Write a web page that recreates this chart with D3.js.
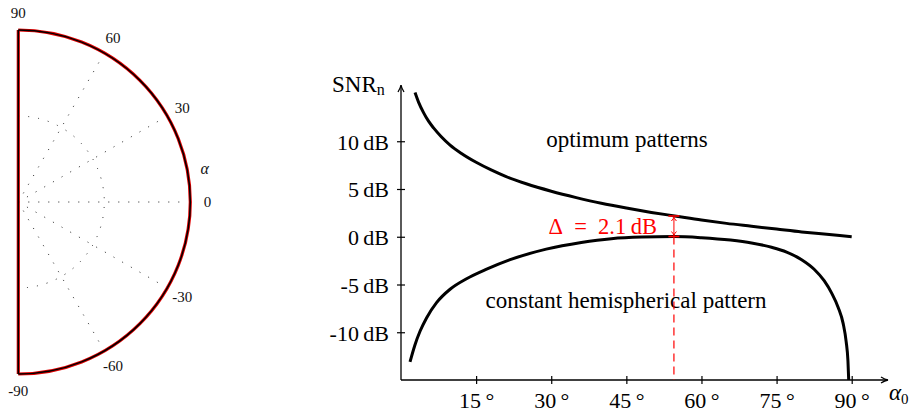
<!DOCTYPE html>
<html>
<head>
<meta charset="utf-8">
<script src="https://cdn.jsdelivr.net/npm/d3@7"></script>
<style>
  body { margin: 0; background: #fff; }
  svg { display: block; }
  text { font-family: "Liberation Serif", "Times New Roman", serif; }
</style>
</head>
<body>
<div id="chart"></div>
<script>
// polar sketch (left)
const polarLabels = [-90, -60, -30, 0, 30, 60, 90];
const polarRays = [-60, -30, 0, 30, 60];

// SNR vs alpha0 (right)
const xTicks = [15, 30, 45, 60, 75, 90];
const yTicks = [-10, -5, 0, 5, 10];
const alphaOpt = [2.8, 3.5, 4.5, 5.5, 6.5, 8, 9.8, 12, 15, 18, 21, 25, 30, 35, 40, 45, 50, 55, 60, 65, 70, 75, 80, 85, 90];
const snrOpt = [15.1, 14.1, 13.0, 12.1, 11.4, 10.5, 9.6, 8.75, 7.8, 7.0, 6.3, 5.55, 4.77, 4.1, 3.5, 3.0, 2.55, 2.15, 1.75, 1.4, 1.1, 0.8, 0.5, 0.25, 0.0];
const alphaHemi = [1.8, 2.8, 3.8, 5.1, 7.1, 9.8, 13.1, 17.1, 21.8, 29, 36, 42, 48, 54.5, 60, 65.8, 70, 74, 77, 80, 82.5, 84.5, 86, 87.3, 88.3, 88.9, 89.25, 89.4];
const snrHemi = [-13.1, -11.3, -9.9, -8.5, -6.9, -5.5, -4.4, -3.4, -2.4, -1.3, -0.6, -0.2, -0.03, 0.02, -0.1, -0.35, -0.65, -1.1, -1.6, -2.4, -3.4, -4.6, -5.9, -7.4, -9.1, -11.0, -13.0, -15];
const deltaAlpha = 54.5;
const deltaText = "\u0394\u2002=\u20022.1\u2009dB";

const width = 916, height = 414;
const svg = d3.select("#chart").append("svg")
    .attr("width", width)
    .attr("height", height);

// ---------- left: polar half circle ----------
const cx = 18.3, cy = 202, R = 172;
const r = d3.scaleLinear().domain([0, 1]).range([0, R]);
const px = (a, k) => cx + r(k) * Math.cos(a * Math.PI / 180);
const py = (a, k) => cy - r(k) * Math.sin(a * Math.PI / 180);

const polar = svg.append("g");

polar.selectAll("line.ray")
    .data(polarRays)
    .enter()
    .append("line")
    .attr("class", "ray")
    .attr("x1", cx).attr("y1", cy)
    .attr("x2", d => px(d, 0.95))
    .attr("y2", d => py(d, 0.95))
    .attr("stroke", "#222")
    .attr("stroke-width", 1)
    .attr("stroke-dasharray", "1,9");

const halfArc = k => {
    const p = d3.path();
    p.arc(cx, cy, r(k), -Math.PI / 2, Math.PI / 2);
    return p.toString();
};

polar.append("path")
    .attr("d", halfArc(0.5))
    .attr("fill", "none")
    .attr("stroke", "#222")
    .attr("stroke-width", 1)
    .attr("stroke-dasharray", "1,9");

// outline: red underneath, black on top
["#e00000", "#000"].forEach((c, i) => {
    const w = i === 0 ? 3.2 : 1.5;
    polar.append("path")
        .attr("d", halfArc(1))
        .attr("fill", "none")
        .attr("stroke", c)
        .attr("stroke-width", w);
    polar.append("line")
        .attr("x1", cx).attr("y1", py(90, 1))
        .attr("x2", cx).attr("y2", py(-90, 1))
        .attr("stroke", c)
        .attr("stroke-width", w);
});

polar.selectAll("text.plab")
    .data(polarLabels)
    .enter()
    .append("text")
    .attr("class", "plab")
    .attr("x", d => px(d, 1.1))
    .attr("y", d => py(d, 1.1))
    .attr("dy", "0.35em")
    .attr("text-anchor", "middle")
    .attr("font-size", 15)
    .attr("fill", "#111")
    .text(d => d);

polar.append("text")
    .attr("x", px(10, 1.1))
    .attr("y", py(10, 1.1))
    .attr("dy", "0.3em")
    .attr("text-anchor", "middle")
    .attr("font-size", 16)
    .attr("font-style", "italic")
    .attr("fill", "#111")
    .text("\u03b1");

// ---------- right: SNR chart ----------
const x = d3.scaleLinear().domain([0, 90]).range([401, 851.7]);
const y = d3.scaleLinear().domain([-15, 15]).range([380, 93.5]);
const fs = 22;

const yAxis = g => g
    .attr("transform", `translate(${x(0)},0)`)
    .call(d3.axisLeft(y).tickValues(yTicks).tickSize(4).tickPadding(8)
        .tickFormat(d => d + "\u2009dB"))
    .call(g => g.select(".domain").remove())
    .call(g => g.selectAll(".tick line").attr("x2", 4).attr("x1", -4).attr("stroke-width", 1.2))
    .call(g => g.selectAll(".tick text").attr("dy", "0.36em"));

const xAxis = g => g
    .attr("transform", `translate(0,${y(-15)})`)
    .call(d3.axisBottom(x).tickValues(xTicks).tickSize(4).tickPadding(8)
        .tickFormat(d => d + "\u2009\u00b0"))
    .call(g => g.select(".domain").remove())
    .call(g => g.selectAll(".tick line").attr("y1", -4).attr("y2", 4).attr("stroke-width", 1.2));

svg.append("g").call(yAxis)
    .attr("font-family", "Liberation Serif, serif").attr("font-size", fs);
svg.append("g").call(xAxis)
    .attr("font-family", "Liberation Serif, serif").attr("font-size", fs);

// axis lines with arrows
const axes = svg.append("g").attr("stroke", "#000").attr("fill", "none").attr("stroke-width", 1.3);
axes.append("line").attr("x1", x(0)).attr("y1", y(-15)).attr("x2", x(0)).attr("y2", 85.5);
axes.append("line").attr("x1", x(0)).attr("y1", y(-15)).attr("x2", 887.5).attr("y2", y(-15));
axes.append("path")
    .attr("d", `M${x(0) - 3},${92} Q${x(0) - 0.5},${88} ${x(0)},${85} Q${x(0) + 0.5},${88} ${x(0) + 3},${92}`);
axes.append("path")
    .attr("d", `M${881},${y(-15) - 3} Q${885},${y(-15) - 0.5} ${888},${y(-15)} Q${885},${y(-15) + 0.5} ${881},${y(-15) + 3}`);

// axis titles
const snr = svg.append("text")
    .attr("x", 332).attr("y", 92)
    .attr("font-size", 23);
snr.append("tspan").text("SNR");
snr.append("tspan").attr("font-size", 16).attr("dy", 3).text("n");

const al = svg.append("text")
    .attr("x", 889).attr("y", 400)
    .attr("font-size", 23);
al.append("tspan").attr("font-style", "italic").text("\u03b1");
al.append("tspan").attr("font-size", 15).attr("dy", 4).text("0");

// curves
const line = d3.line()
    .x(d => x(d[0]))
    .y(d => y(d[1]))
    .curve(d3.curveMonotoneX);

svg.append("path")
    .datum(d3.zip(alphaOpt, snrOpt))
    .attr("d", line)
    .attr("fill", "none")
    .attr("stroke", "#000")
    .attr("stroke-width", 3);

svg.append("path")
    .datum(d3.zip(alphaHemi, snrHemi))
    .attr("d", line)
    .attr("fill", "none")
    .attr("stroke", "#000")
    .attr("stroke-width", 3);

// annotations
svg.append("text")
    .attr("x", 627).attr("y", 147)
    .attr("text-anchor", "middle")
    .attr("font-size", 23)
    .text("optimum patterns");

svg.append("text")
    .attr("x", 626).attr("y", 308)
    .attr("text-anchor", "middle")
    .attr("font-size", 23)
    .text("constant hemispherical pattern");

// delta marker
const red = "#f00";
const xd = x(deltaAlpha);
const yTop = 216, yBot = 236.5;
const dm = svg.append("g").attr("stroke", red).attr("fill", "none");
dm.append("line").attr("x1", xd).attr("x2", xd).attr("y1", yBot).attr("y2", y(-15))
    .attr("stroke-width", 1.2).attr("stroke-dasharray", "8,5");
dm.append("line").attr("x1", xd).attr("x2", xd).attr("y1", yTop + 1).attr("y2", yBot - 1)
    .attr("stroke-width", 1);
dm.append("path").attr("stroke-width", 1)
    .attr("d", `M${xd - 2.5},${yTop + 5} Q${xd - 0.3},${yTop + 2.5} ${xd},${yTop + 1} Q${xd + 0.3},${yTop + 2.5} ${xd + 2.5},${yTop + 5}`);
dm.append("path").attr("stroke-width", 1)
    .attr("d", `M${xd - 2.5},${yBot - 5} Q${xd - 0.3},${yBot - 2.5} ${xd},${yBot - 1} Q${xd + 0.3},${yBot - 2.5} ${xd + 2.5},${yBot - 5}`);
dm.append("line").attr("x1", xd - 5.5).attr("x2", xd + 5.5).attr("y1", yTop).attr("y2", yTop).attr("stroke-width", 1.6);
dm.append("line").attr("x1", xd - 5.5).attr("x2", xd + 5.5).attr("y1", yBot).attr("y2", yBot).attr("stroke-width", 1.6);

svg.append("text")
    .attr("x", 657).attr("y", 234)
    .attr("text-anchor", "end")
    .attr("font-size", 22.5)
    .attr("fill", red)
    .text(deltaText);
</script>
</body>
</html>
